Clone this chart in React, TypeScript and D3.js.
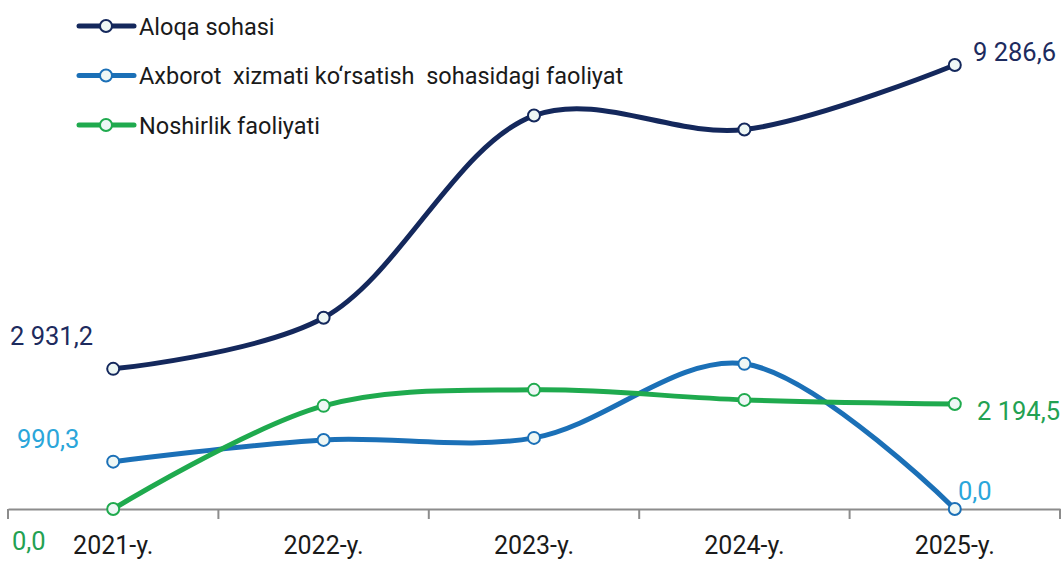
import * as d3 from "d3";
import { useEffect, useRef } from "react";

const years = ["2021-y.", "2022-y.", "2023-y.", "2024-y.", "2025-y."];
const aloqa = [2931.2, 3999, 8229, 7936, 9286.6];
const axborot = [990.3, 1445, 1487, 3036, 0];
const noshirlik = [0, 2157, 2492, 2282, 2194.5];
const seriesNames = [
  "Aloqa sohasi",
  "Axborot  xizmati ko\u2018rsatish  sohasidagi faoliyat",
  "Noshirlik faoliyati",
];

const W = 1062;
const H = 562;
const FONT = "Roboto, 'Noto Sans', sans-serif";

const lineColors = ["#14285c", "#1b70b7", "#1faa4e"];
const labelColors = ["#1d2b5e", "#2ba6da", "#23a152"];

const fmt = (v: number) => {
  const s = v.toFixed(1).replace(".", ",");
  const [i, f] = s.split(",");
  return i.replace(/\B(?=(\d{3})+(?!\d))/g, " ") + "," + f;
};

function drawChart(el: SVGSVGElement) {
  const svg = d3.select(el);
  svg.selectAll("*").remove();

  const x = d3.scaleBand().domain(years).range([8, 1060]);
  const y = d3.scaleLinear().domain([0, 9286.6]).range([509, 65]);
  const cx = (d: string) => (x(d) as number) + x.bandwidth() / 2;

  // axis
  const axis = svg
    .append("g")
    .attr("transform", "translate(0,509)")
    .call(d3.axisBottom(x).tickSizeOuter(0).tickSizeInner(0).tickPadding(27));
  axis.select(".domain").attr("stroke", "#8c8c8c").attr("stroke-width", 2);
  axis
    .selectAll("text")
    .attr("font-family", FONT)
    .attr("font-size", 25)
    .attr("fill", "#1a1a1a");

  // tick marks at band boundaries
  svg
    .append("g")
    .selectAll("line")
    .data([...years.map((d) => x(d) as number), 1060])
    .join("line")
    .attr("x1", (d) => d)
    .attr("x2", (d) => d)
    .attr("y1", 509)
    .attr("y2", 519)
    .attr("stroke", "#8c8c8c")
    .attr("stroke-width", 2);

  const all = [aloqa, axborot, noshirlik];
  const line = d3
    .line<number>()
    .x((_, i) => cx(years[i]))
    .y((d) => y(d))
    .curve(d3.curveCatmullRom.alpha(0.5));

  all.forEach((vals, k) => {
    svg
      .append("path")
      .attr("d", line(vals))
      .attr("fill", "none")
      .attr("stroke", lineColors[k])
      .attr("stroke-width", 5)
      .attr("stroke-linecap", "round");
  });

  all.forEach((vals, k) => {
    svg
      .append("g")
      .selectAll("circle")
      .data(vals)
      .join("circle")
      .attr("cx", (_, i) => cx(years[i]))
      .attr("cy", (d) => y(d))
      .attr("r", 6)
      .attr("fill", "#eef7f5")
      .attr("stroke", lineColors[k])
      .attr("stroke-width", 2);
  });

  // value labels (first and last)
  const labels = [
    { k: 0, v: aloqa[0], x: 10, y: 345 },
    { k: 0, v: aloqa[4], x: 973, y: 61 },
    { k: 1, v: axborot[0], x: 17, y: 448 },
    { k: 1, v: axborot[4], x: 958, y: 500 },
    { k: 2, v: noshirlik[0], x: 12, y: 550 },
    { k: 2, v: noshirlik[4], x: 977, y: 420 },
  ];
  svg
    .append("g")
    .selectAll("text")
    .data(labels)
    .join("text")
    .attr("x", (d) => d.x)
    .attr("y", (d) => d.y)
    .attr("font-family", FONT)
    .attr("font-size", 25.5)
    .attr("fill", (d) => labelColors[d.k])
    .text((d) => fmt(d.v));

  // legend
  const legend = svg
    .append("g")
    .selectAll("g")
    .data(seriesNames)
    .join("g")
    .attr("transform", (_, i) => `translate(0,${26 + i * 49.5})`);
  legend
    .append("line")
    .attr("x1", 79)
    .attr("x2", 134)
    .attr("y1", 0)
    .attr("y2", 0)
    .attr("stroke", (_, i) => lineColors[i])
    .attr("stroke-width", 5)
    .attr("stroke-linecap", "round");
  legend
    .append("circle")
    .attr("cx", 106)
    .attr("cy", 0)
    .attr("r", 6)
    .attr("fill", "#eef7f5")
    .attr("stroke", (_, i) => lineColors[i])
    .attr("stroke-width", 2);
  legend
    .append("text")
    .attr("x", 139)
    .attr("y", 8.5)
    .attr("font-family", FONT)
    .attr("font-size", 23.5)
    .attr("fill", "#1a1a1a")
    .style("white-space", "pre")
    .text((d) => d);
}

export default function App() {
  const ref = useRef<SVGSVGElement>(null);
  useEffect(() => {
    if (ref.current) drawChart(ref.current);
  }, []);
  return (
    <svg
      ref={ref}
      width={W}
      height={H}
      style={{ position: "absolute", left: 0, top: 0, background: "#fff" }}
    />
  );
}
